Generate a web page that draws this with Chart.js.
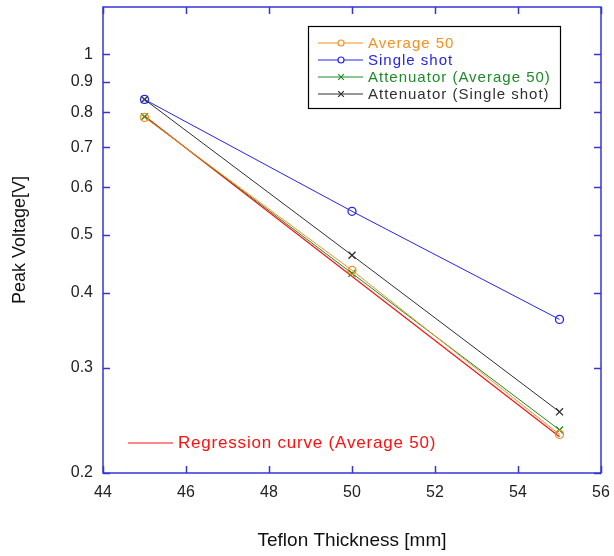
<!DOCTYPE html>
<html>
<head>
<meta charset="utf-8">
<script src="https://cdn.jsdelivr.net/npm/chart.js@4/dist/chart.umd.min.js"></script>
<style>
    html, body { margin: 0; padding: 0; background: #fff; }
    #wrap { width: 614px; height: 556px; }
</style>
</head>
<body>
<div id="wrap"><canvas id="voltageChart" width="614" height="556"></canvas></div>
<script>
// teflon thickness [mm] and measured peak voltages [V]
const thickness = [45, 50, 55];
const average50 = [0.785, 0.436, 0.232];
const singleShot = [0.841, 0.547, 0.361];
const attAverage50 = [0.787, 0.431, 0.236];
const attSingleShot = [0.841, 0.462, 0.253];

// fitted exponential, straight on the log axis
const regressionX = [45, 55];
const regressionY = [0.789, 0.230];

const xTicks = [44, 46, 48, 50, 52, 54, 56];
const yTicks = [0.2, 0.3, 0.4, 0.5, 0.6, 0.7, 0.8, 0.9, 1];

const FONT = '"Liberation Sans", Arial, sans-serif';
const FRAME_COLOR = '#3434d8';

function toPoints(xs, ys) {
    return xs.map((x, i) => ({ x: x, y: ys[i] }));
}

function series(label, values, color, marker) {
    return {
        label: label,
        data: toPoints(thickness, values),
        borderColor: color,
        backgroundColor: 'rgba(0,0,0,0)',
        borderWidth: 1,
        pointStyle: marker,
        pointRadius: marker === 'circle' ? 4 : 5,
        pointBorderWidth: 1.3,
        pointBorderColor: color,
        pointBackgroundColor: 'rgba(0,0,0,0)',
        tension: 0
    };
}

const datasets = [
    {
        label: 'Regression curve (Average 50)',
        data: toPoints(regressionX, regressionY),
        borderColor: '#ff1010',
        borderWidth: 1.2,
        pointRadius: 0,
        tension: 0,
        order: 5
    },
    series('Average 50', average50, '#f7901e', 'circle'),
    series('Single shot', singleShot, '#2424ee', 'circle'),
    series('Attenuator (Average 50)', attAverage50, '#1e8a2a', 'crossRot'),
    series('Attenuator (Single shot)', attSingleShot, '#303030', 'crossRot')
];

// keep the plot box where it is, no extra room for edge labels
function noScalePadding(scale) {
    scale.paddingLeft = 0;
    scale.paddingRight = 0;
    scale.paddingTop = 0;
    scale.paddingBottom = 0;
}

// box around the plot with inward ticks on every side
const framePlugin = {
    id: 'frame',
    afterDatasetsDraw(chart) {
        const { ctx, chartArea: a, scales } = chart;
        const len = 7;
        ctx.save();
        ctx.strokeStyle = FRAME_COLOR;
        ctx.lineWidth = 1.5;
        ctx.strokeRect(a.left, a.top, a.right - a.left, a.bottom - a.top);
        ctx.beginPath();
        xTicks.forEach(v => {
            const px = Math.round(scales.x.getPixelForValue(v)) + 0.5;
            ctx.moveTo(px, a.bottom); ctx.lineTo(px, a.bottom - len);
            ctx.moveTo(px, a.top); ctx.lineTo(px, a.top + len);
        });
        yTicks.forEach(v => {
            const py = Math.round(scales.y.getPixelForValue(v)) + 0.5;
            ctx.moveTo(a.left, py); ctx.lineTo(a.left + len, py);
            ctx.moveTo(a.right, py); ctx.lineTo(a.right - len, py);
        });
        ctx.stroke();
        ctx.restore();
    }
};

// legend box at the top right and the regression note at the bottom left
const legendPlugin = {
    id: 'customLegend',
    afterDraw(chart) {
        const { ctx } = chart;
        const sets = chart.data.datasets;
        ctx.save();
        ctx.fillStyle = '#fff';
        ctx.fillRect(308, 26, 253, 82);
        ctx.strokeStyle = '#000';
        ctx.lineWidth = 1.2;
        ctx.strokeRect(308.5, 26.5, 252, 82);
        ctx.font = '15px ' + FONT;
        ctx.letterSpacing = '1px';
        ctx.textBaseline = 'middle';
        sets.slice(1).forEach((ds, i) => {
            const y = 43 + i * 17;
            ctx.strokeStyle = ds.borderColor;
            ctx.lineWidth = 1;
            ctx.beginPath();
            ctx.moveTo(318, y); ctx.lineTo(363, y);
            ctx.stroke();
            ctx.lineWidth = 1.2;
            ctx.fillStyle = '#fff';
            Chart.helpers.drawPoint(ctx, {
                pointStyle: ds.pointStyle,
                radius: ds.pointStyle === 'circle' ? 3 : 4,
                rotation: 0,
                borderWidth: 1.2
            }, 341, y);
            ctx.fillStyle = ds.borderColor;
            ctx.fillText(ds.label, 368, y + 1);
        });

        const reg = sets[0];
        ctx.strokeStyle = reg.borderColor;
        ctx.lineWidth = 1.2;
        ctx.beginPath();
        ctx.moveTo(128, 443); ctx.lineTo(173, 443);
        ctx.stroke();
        ctx.font = '17px ' + FONT;
        ctx.letterSpacing = '0.8px';
        ctx.fillStyle = reg.borderColor;
        ctx.fillText(reg.label, 178, 443);
        ctx.restore();
    }
};

new Chart(document.getElementById('voltageChart').getContext('2d'), {
    type: 'line',
    data: { datasets: datasets },
    plugins: [framePlugin, legendPlugin],
    options: {
        responsive: false,
        animation: false,
        layout: { padding: { top: 7, right: 13, left: 0, bottom: 0 } },
        plugins: {
            legend: { display: false },
            tooltip: { enabled: false }
        },
        scales: {
            x: {
                type: 'linear',
                min: 44,
                max: 56,
                afterBuildTicks: scale => { scale.ticks = xTicks.map(v => ({ value: v })); },
                afterFit: scale => { scale.height = 83; noScalePadding(scale); },
                grid: { display: false, drawTicks: false },
                border: { display: false },
                ticks: {
                    color: '#222',
                    padding: 10,
                    maxRotation: 0,
                    font: { family: FONT, size: 16 }
                },
                title: {
                    display: true,
                    text: 'Teflon Thickness [mm]',
                    color: '#111',
                    font: { family: FONT, size: 19 },
                    padding: { top: 0, bottom: 4 }
                }
            },
            y: {
                type: 'logarithmic',
                min: 0.2,
                max: 1.2,
                afterBuildTicks: scale => { scale.ticks = yTicks.map(v => ({ value: v })); },
                afterFit: scale => { scale.width = 103; noScalePadding(scale); },
                grid: { display: false, drawTicks: false },
                border: { display: false },
                ticks: {
                    color: '#222',
                    padding: 10,
                    font: { family: FONT, size: 16 },
                    callback: v => String(v)
                },
                title: {
                    display: true,
                    text: 'Peak Voltage[V]',
                    color: '#111',
                    font: { family: FONT, size: 18 },
                    padding: { top: 9, bottom: 9 }
                }
            }
        }
    }
});
</script>
</body>
</html>
